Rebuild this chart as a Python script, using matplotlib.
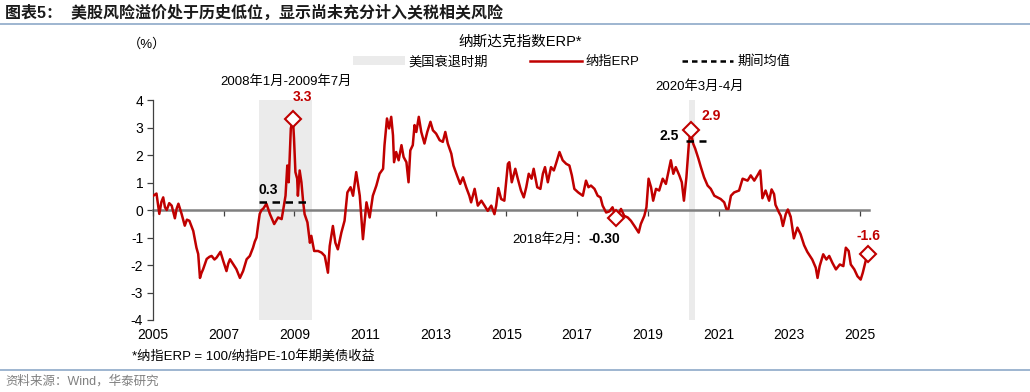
import matplotlib
matplotlib.use('Agg')
import matplotlib.pyplot as plt
import matplotlib.transforms as mtransforms
from matplotlib.patches import Patch
from matplotlib.lines import Line2D

plt.rcParams['font.family'] = ['Liberation Sans', 'Noto Sans CJK SC', 'DejaVu Sans']
plt.rcParams['axes.unicode_minus'] = False

# Data (decimal year, ERP in %)
t = [2005.01, 2005.10, 2005.18, 2005.24, 2005.29, 2005.34, 2005.39, 2005.46, 2005.53, 2005.62,
     2005.67, 2005.72, 2005.81, 2005.90, 2005.96, 2006.03, 2006.14, 2006.23, 2006.28, 2006.31,
     2006.33, 2006.37, 2006.42, 2006.52, 2006.60, 2006.66, 2006.74, 2006.80, 2006.91, 2006.99,
     2007.08, 2007.13, 2007.18, 2007.27, 2007.36, 2007.46, 2007.55, 2007.65, 2007.74, 2007.83,
     2007.88, 2007.93, 2007.98, 2008.02, 2008.07, 2008.12, 2008.21, 2008.31, 2008.43, 2008.54,
     2008.64, 2008.68, 2008.75, 2008.80, 2008.84, 2008.90, 2008.96, 2008.99, 2009.03, 2009.08,
     2009.10, 2009.15, 2009.20, 2009.25, 2009.29, 2009.37, 2009.44, 2009.48, 2009.56, 2009.67,
     2009.77, 2009.86, 2009.95, 2010.00, 2010.09, 2010.16, 2010.23, 2010.33, 2010.42, 2010.50,
     2010.59, 2010.66, 2010.75, 2010.85, 2010.94, 2011.04, 2011.13, 2011.22, 2011.32, 2011.41,
     2011.51, 2011.55, 2011.62, 2011.68, 2011.74, 2011.79, 2011.82, 2011.88, 2011.95, 2012.03,
     2012.09, 2012.17, 2012.23, 2012.28, 2012.35, 2012.40, 2012.45, 2012.52, 2012.59, 2012.68,
     2012.76, 2012.85, 2012.92, 2013.01, 2013.11, 2013.20, 2013.27, 2013.34, 2013.44, 2013.50,
     2013.60, 2013.69, 2013.77, 2013.86, 2013.95, 2014.00, 2014.10, 2014.19, 2014.29, 2014.38,
     2014.47, 2014.57, 2014.66, 2014.71, 2014.77, 2014.85, 2014.94, 2015.04, 2015.08, 2015.15,
     2015.25, 2015.32, 2015.41, 2015.49, 2015.56, 2015.63, 2015.71, 2015.77, 2015.87, 2015.96,
     2016.03, 2016.09, 2016.17, 2016.26, 2016.34, 2016.40, 2016.50, 2016.59, 2016.69, 2016.78,
     2016.85, 2016.92, 2017.03, 2017.16, 2017.25, 2017.32, 2017.39, 2017.49, 2017.58, 2017.66,
     2017.72, 2017.82, 2017.91, 2018.00, 2018.11, 2018.24, 2018.33, 2018.43, 2018.52, 2018.62,
     2018.74, 2018.80, 2018.90, 2018.96, 2019.02, 2019.09, 2019.15, 2019.23, 2019.32, 2019.42,
     2019.51, 2019.58, 2019.65, 2019.72, 2019.79, 2019.89, 2019.96, 2020.02, 2020.09, 2020.16,
     2020.21, 2020.28, 2020.34, 2020.43, 2020.50, 2020.59, 2020.69, 2020.78, 2020.88, 2020.97,
     2021.06, 2021.16, 2021.22, 2021.28, 2021.35, 2021.44, 2021.58, 2021.68, 2021.82, 2021.91,
     2022.01, 2022.10, 2022.18, 2022.24, 2022.33, 2022.43, 2022.50, 2022.57, 2022.61, 2022.71,
     2022.76, 2022.82, 2022.90, 2022.96, 2023.04, 2023.13, 2023.23, 2023.32, 2023.42, 2023.51,
     2023.65, 2023.75, 2023.80, 2023.86, 2023.96, 2024.05, 2024.13, 2024.22, 2024.32, 2024.43,
     2024.53, 2024.60, 2024.68, 2024.74, 2024.84, 2024.93, 2025.02, 2025.08, 2025.16, 2025.23]
erp = [0.52, 0.60, -0.14, 0.30, 0.46, 0.10, 0.00, 0.25, 0.16, -0.30,
       0.05, 0.23, -0.14, -0.57, -0.35, -0.39, -0.76, -1.37, -1.60, -2.10,
       -2.47, -2.30, -2.15, -1.78, -1.70, -1.67, -1.80, -1.73, -1.52, -1.86,
       -2.22, -1.95, -1.79, -1.97, -2.15, -2.47, -2.22, -1.79, -1.67, -1.37,
       -1.15, -1.00, -0.50, -0.14, 0.00, 0.05, 0.23, -0.15, -0.51, -0.27,
       -0.33, -0.03, 0.52, 1.62, 1.01, 2.97, 3.30, 2.61, 1.38, 1.14,
       0.52, 1.44, 1.01, 0.28, -0.15, -0.45, -1.19, -0.94, -1.49, -1.49,
       -1.55, -1.67, -2.28, -1.31, -0.58, -1.19, -1.43, -0.82, -0.39, 0.64,
       0.83, 0.52, 1.38, 0.52, -1.06, 0.28, -0.27, 0.52, 0.89, 1.32,
       1.50, 2.36, 3.33, 2.97, 3.39, 2.72, 1.74, 2.11, 1.81, 2.36,
       1.93, 1.74, 1.01, 2.17, 2.36, 3.09, 2.84, 3.39, 2.84, 2.42,
       2.84, 3.21, 2.90, 2.78, 2.54, 2.48, 2.84, 2.42, 2.05, 1.62,
       1.26, 0.95, 1.19, 0.83, 0.52, 0.28, 0.77, 0.16, 0.34, 0.16,
       -0.03, 0.16, -0.15, 0.16, 0.80, 0.40, 0.34, 1.68, 1.74, 1.01,
       1.50, 1.14, 0.71, 0.46, 0.83, 1.32, 1.14, 1.50, 0.83, 0.77,
       1.32, 1.56, 1.01, 1.56, 1.44, 1.68, 2.11, 1.81, 1.68, 1.62,
       1.26, 0.77, 0.64, 0.52, 1.07, 0.83, 0.89, 0.77, 0.52, 0.46,
       0.16, -0.09, -0.05, 0.10, -0.30, 0.04, -0.21, -0.27, -0.39, -0.58,
       -0.82, -0.51, -0.21, 0.10, 1.14, 0.83, 0.34, 0.77, 0.71, 1.14,
       0.95, 1.38, 1.81, 1.32, 1.56, 1.26, 1.01, 0.34, 1.19, 2.42,
       2.90, 2.42, 2.23, 1.87, 1.56, 1.19, 0.89, 0.77, 0.52, 0.46,
       0.40, 0.28, 0.04, 0.04, 0.52, 0.64, 0.71, 1.14, 1.07, 1.26,
       1.07, 1.26, 1.44, 0.43, 0.71, 0.34, 0.75, 0.58, 0.19, -0.09,
       -0.21, -0.58, -0.15, 0.02, -0.24, -1.03, -0.64, -0.88, -1.28, -1.52,
       -1.80, -2.10, -2.47, -2.04, -1.61, -1.80, -1.67, -1.92, -2.16, -1.98,
       -2.04, -1.37, -1.49, -1.98, -2.16, -2.41, -2.53, -2.28, -1.86, -1.60]

# recession periods
rec_start = [2008.0, 2020.17]
rec_end = [2009.5, 2020.33]
rec_labels = ['2008年1月-2009年7月', '2020年3月-4月']

# period means
mean_start = [2008.0, 2020.08]
mean_end = [2009.45, 2020.65]
mean_val = [0.3, 2.5]

# highlighted points
pt_t = [2008.96, 2020.21, 2018.11, 2025.23]
pt_v = [3.3, 2.9, -0.30, -1.6]

red = '#C00000'
fig = plt.figure(figsize=(10.30, 3.92), dpi=100)
ax = fig.add_axes([0.1485, 0.1837, 0.695, 0.561])

for s, e in zip(rec_start, rec_end):
    ax.axvspan(s, e, color='#EBEBEB', lw=0, zorder=0)

ax.plot(t, erp, color=red, lw=1.8, zorder=3)

for s, e, m in zip(mean_start, mean_end, mean_val):
    ax.hlines(m, s, e, colors='black', linestyles=(0, (3, 2.2)), lw=1.8, zorder=4)

ax.plot(pt_t, pt_v, ls='none', marker='D', ms=8, mfc='white', mec=red, mew=1.5,
        zorder=5, clip_on=False)

# value labels
ax.annotate(f'{pt_v[0]:.1f}', (pt_t[0], pt_v[0]), xytext=(7, 16), textcoords='offset points',
            ha='center', va='center', color=red, fontsize=10, fontweight='bold')
ax.annotate(f'{pt_v[1]:.1f}', (pt_t[1], pt_v[1]), xytext=(15, 10), textcoords='offset points',
            ha='center', va='center', color=red, fontsize=10, fontweight='bold')
ax.annotate(f'{pt_v[3]:.1f}', (pt_t[3], pt_v[3]), xytext=(0, 13), textcoords='offset points',
            ha='center', va='center', color=red, fontsize=10, fontweight='bold')
ax.annotate('2018年2月：', (pt_t[2], pt_v[2]), xytext=(-20, -15), textcoords='offset points',
            ha='right', va='center', color='black', fontsize=9.5)
ax.annotate(f'{pt_v[2]:.2f}', (pt_t[2], pt_v[2]), xytext=(-20, -15), textcoords='offset points',
            ha='left', va='center', color='black', fontsize=10, fontweight='bold')
ax.annotate(f'{mean_val[0]:.1f}', (mean_start[0], mean_val[0]), xytext=(7, 8.5),
            textcoords='offset points', ha='center', va='center', fontsize=10, fontweight='bold')
ax.annotate(f'{mean_val[1]:.1f}', (mean_start[1], mean_val[1]), xytext=(-5, 4),
            textcoords='offset points', ha='right', va='center', fontsize=10, fontweight='bold')

trans = mtransforms.blended_transform_factory(ax.transData, ax.transAxes)
ax.text((rec_start[0] + rec_end[0]) / 2, 1.082, rec_labels[0], transform=trans,
        ha='center', va='center', fontsize=9.5)
ax.text(rec_start[1] + 0.3, 1.06, rec_labels[1], transform=trans,
        ha='center', va='center', fontsize=9.5)

# axes styling
ax.set_xlim(2005.0, 2025.25)
ax.set_ylim(-4, 4)
ax.set_yticks(range(-4, 5))
xt = list(range(2005, 2026, 2))
ax.set_xticks(xt)
ax.spines['top'].set_visible(False)
ax.spines['right'].set_visible(False)
ax.spines['bottom'].set_position(('data', 0))
ax.spines['bottom'].set_color('#808080')
ax.spines['bottom'].set_linewidth(1.8)
ax.spines['bottom'].set_zorder(2)
ax.spines['left'].set_color('#404040')
ax.spines['left'].set_linewidth(0.9)
ax.tick_params(axis='x', direction='out', length=4, width=0.9, color='#404040', labelbottom=False)
ax.tick_params(axis='y', direction='out', length=4, width=0.9, color='#404040', labelsize=10, pad=3)

sec = ax.secondary_xaxis('bottom')
sec.set_xticks(xt)
sec.spines['bottom'].set_visible(False)
sec.tick_params(length=0, labelsize=10, pad=6)

# legend and headings
handles = [Patch(facecolor='#EBEBEB', edgecolor='none'),
           Line2D([], [], color=red, lw=1.8),
           Line2D([], [], color='black', lw=1.8, ls=(0, (2.2, 1.6)))]
fig.legend(handles, ['美国衰退时期', '纳指ERP', '期间均值'], loc='center', ncol=3,
           bbox_to_anchor=(0.555, 0.842), frameon=False, fontsize=9.5,
           handlelength=3.9, handletextpad=0.3, columnspacing=3.2, handleheight=0.6)
fig.text(0.505, 0.893, '纳斯达克指数ERP*', ha='center', va='center', fontsize=10.5)
fig.text(0.124, 0.887, '（%）', ha='left', va='center', fontsize=9.5)

fig.text(0.005, 0.968, '图表5：  美股风险溢价处于历史低位，显示尚未充分计入关税相关风险',
         ha='left', va='center', fontsize=11.5, fontweight='bold', color='#1a1a1a')
fig.add_artist(Line2D([0, 1], [0.938, 0.938], color='#8EA9C8', lw=1.2, transform=fig.transFigure))
fig.text(0.128, 0.088, '*纳指ERP = 100/纳指PE-10年期美债收益', ha='left', va='center', fontsize=9.5)
fig.add_artist(Line2D([0, 1], [0.057, 0.057], color='#8EA9C8', lw=1.2, transform=fig.transFigure))
fig.text(0.005, 0.028, '资料来源：Wind，华泰研究', ha='left', va='center', fontsize=9, color='#808080')

fig.savefig('out.png', dpi=100)
